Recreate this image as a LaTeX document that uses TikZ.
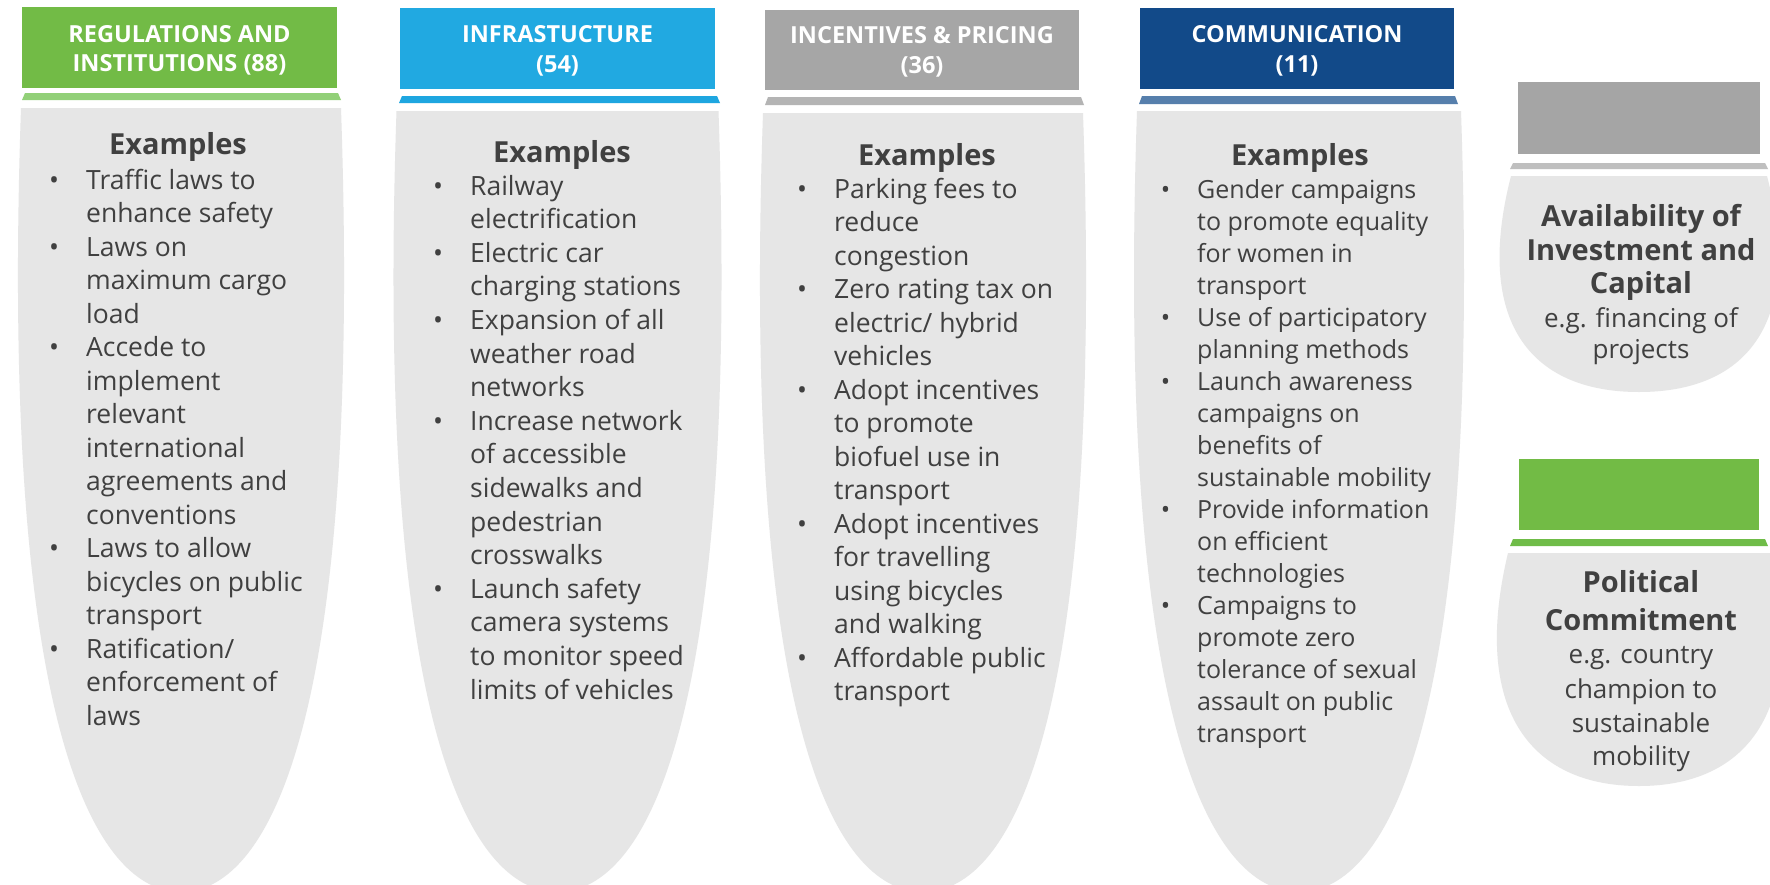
\documentclass[tikz,border=0pt]{standalone}
\usepackage{fontspec}
\setmainfont{Open Sans}
\definecolor{gA}{HTML}{72BB46}
\definecolor{gAbar}{HTML}{92D078}
\definecolor{bB}{HTML}{21A9E1}
\definecolor{bBbar}{HTML}{1EA6E0}
\definecolor{grC}{HTML}{A6A6A6}
\definecolor{grCbar}{HTML}{B4B4B4}
\definecolor{dD}{HTML}{124A89}
\definecolor{dDbar}{HTML}{567FAC}
\definecolor{pgrey}{HTML}{A5A5A5}
\definecolor{pgreybar}{HTML}{BFBFBF}
\definecolor{pgreen}{HTML}{72BB45}
\definecolor{pgreenbar}{HTML}{6FBC48}
\definecolor{shp}{HTML}{E6E6E6}
\definecolor{txt}{HTML}{404040}
\newcommand\bul{\llap{\textbullet\hspace{27pt}}}
\newcommand\myshape[4]{% c, T, w, B
  \fill[shp] ({#1-#3},#2) .. controls ({#1-#3-22},{#2+640}) and ({#1-80},#4) .. (#1,#4)
    .. controls ({#1+80},#4) and ({#1+#3+22},{#2+640}) .. ({#1+#3},#2) -- cycle;}
\begin{document}
\begin{tikzpicture}[x=1pt,y=-1pt,
  hbox/.style={inner sep=0pt, minimum width=315pt, minimum height=81pt},
  htext/.style={anchor=base, inner sep=0pt, text=white, font=\bfseries\fontsize{23.5}{28}\selectfont},
  extitle/.style={anchor=base, inner sep=0pt, text=txt, font=\bfseries\fontsize{29}{34}\selectfont},
  body/.style={anchor=base west, inner sep=0pt, text=txt, font=\fontsize{26.5}{32}\selectfont},
  bodys/.style={anchor=base west, inner sep=0pt, text=txt, font=\fontsize{25}{30}\selectfont},
  pbold/.style={anchor=base, inner sep=0pt, text=txt, font=\bfseries\fontsize{29}{34}\selectfont},
  preg/.style={anchor=base, inner sep=0pt, text=txt, font=\fontsize{26}{32}\selectfont}]
\useasboundingbox (0,0) rectangle (1770,884);
\clip (0,0) rectangle (1770,884);
\fill[white] (0,0) rectangle (1770,884);

% ---- column shapes
\myshape{181}{108}{160}{892}
\myshape{557.5}{111}{161}{892}
\myshape{923}{113}{160}{892}
\myshape{1299}{111}{162}{892}

% ---- header boxes
\node[hbox, fill=gA] (box1) at (179.5,47.5) {};
\node[hbox, fill=bB] (box2) at (557.5,48.5) {};
\node[hbox, fill=grC, minimum width=314pt, minimum height=80pt] (box3) at (922,50) {};
\node[hbox, fill=dD, minimum width=314pt] (box4) at (1297,48.5) {};

% ---- bars
\fill[gAbar] (25,93) -- (338,93) -- (341,100) -- (22,100) -- cycle;
\fill[bBbar] (402,96) -- (717,96) -- (720,103) -- (399,103) -- cycle;
\fill[grCbar] (768,97) -- (1081,97) -- (1084,105) -- (765,105) -- cycle;
\fill[dDbar] (1142,96) -- (1455,96) -- (1458,104) -- (1139,104) -- cycle;

% ---- header texts
\node[htext] (h1a) at (179.5,42) {REGULATIONS AND};
\node[htext] (h1b) at (179.5,71) {INSTITUTIONS (88)};
\node[htext] (h2a) at (557.5,42) {INFRASTUCTURE};
\node[htext] (h2b) at (557.5,72) {(54)};
\node[htext] (h3a) at (922,43) {INCENTIVES \& PRICING};
\node[htext] (h3b) at (922,73) {(36)};
\node[htext] (h4a) at (1297,42) {COMMUNICATION};
\node[htext] (h4b) at (1297,72) {(11)};

% ---- Examples
\node[extitle] (ex1) at (178,154) {Examples};
\node[extitle] (ex2) at (562,162) {Examples};
\node[extitle] (ex3) at (927,165) {Examples};
\node[extitle] (ex4) at (1300,165) {Examples};

% ---- column 1
\foreach \tx [count=\i from 0] in {\bul Traffic laws to, enhance safety, \bul Laws on, maximum cargo, load, \bul Accede to, implement, relevant, international, agreements and, conventions, \bul Laws to allow, bicycles on public, transport, \bul Ratification/, enforcement of, laws}
  \node[body, name=a\i] at (86,{189+33.5*\i}) {\ignorespaces\tx};

% ---- column 2
\foreach \tx [count=\i from 0] in {\bul Railway, electrification, \bul Electric car, charging stations, \bul Expansion of all, weather road, networks, \bul Increase network, of accessible, sidewalks and, pedestrian, crosswalks, \bul Launch safety, camera systems, to monitor speed, limits of vehicles}
  \node[body, name=b\i] at (470,{195+33.6*\i}) {\ignorespaces\tx};

% ---- column 3
\foreach \tx [count=\i from 0] in {\bul Parking fees to, reduce, congestion, \bul Zero rating tax on, electric/ hybrid, vehicles, \bul Adopt incentives, to promote, biofuel use in, transport, \bul Adopt incentives, for travelling, using bicycles, and walking, \bul Affordable public, transport}
  \node[body, name=c\i] at (834,{198+33.5*\i}) {\ignorespaces\tx};

% ---- column 4
\foreach \tx [count=\i from 0] in {\bul Gender campaigns, to promote equality, for women in, transport, \bul Use of participatory, planning methods, \bul Launch awareness, campaigns on, benefits of, sustainable mobility, \bul Provide information, on efficient, technologies, \bul Campaigns to, promote zero, tolerance of sexual, assault on public, transport}
  \node[bodys, name=d\i] at (1197,{198+32*\i}) {\ignorespaces\tx};

% ---- right panel 1
\fill[shp] (1511,176) .. controls (1474,320) and (1529,392) .. (1639,392)
  .. controls (1749,392) and (1804,320) .. (1767,176) -- cycle;
\node[hbox, fill=pgrey, minimum width=242pt, minimum height=72pt] (pbox1) at (1639,118) {};
\fill[pgreybar] (1513,163) -- (1765,163) -- (1768,169) -- (1510,169) -- cycle;
\node[pbold] (p1a) at (1641,226) {Availability of};
\node[pbold] (p1b) at (1641,260) {Investment and};
\node[pbold] (p1c) at (1641,293) {Capital};
\node[preg] (p1d) at (1641,327) {e.g. financing of};
\node[preg] (p1e) at (1641,358) {projects};

% ---- right panel 2
\fill[shp] (1508,553) .. controls (1471,708) and (1529,786) .. (1639,786)
  .. controls (1749,786) and (1807,708) .. (1770,553) -- cycle;
\node[hbox, fill=pgreen, minimum width=240pt, minimum height=71pt] (pbox2) at (1639,494.5) {};
\fill[pgreenbar] (1513,539) -- (1765,539) -- (1768,546) -- (1510,546) -- cycle;
\node[pbold] (p2a) at (1641,592) {Political};
\node[pbold] (p2b) at (1641,630) {Commitment};
\node[preg] (p2c) at (1641,663) {e.g. country};
\node[preg] (p2d) at (1641,698) {champion to};
\node[preg] (p2e) at (1641,732) {sustainable};
\node[preg] (p2f) at (1641,765) {mobility};
\end{tikzpicture}
\end{document}
